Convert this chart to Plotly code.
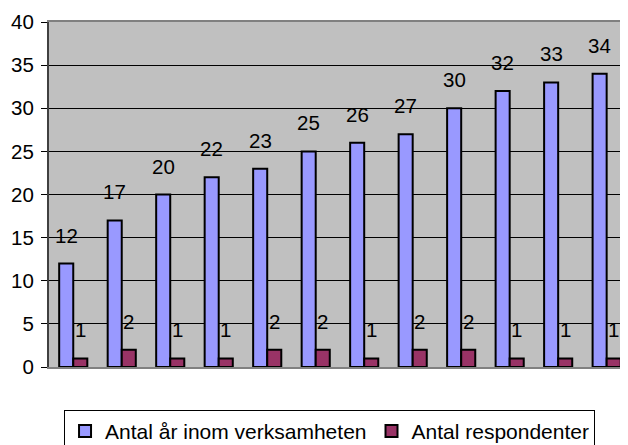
import plotly.graph_objects as go

categories = list(range(12))
years = [12, 17, 20, 22, 23, 25, 26, 27, 30, 32, 33, 34]
respondents = [1, 2, 1, 1, 2, 2, 1, 2, 2, 1, 1, 1]
series_names = ["Antal år inom verksamheten", "Antal respondenter"]
colors = ["#9999FF", "#993366"]
y_ticks = [0, 5, 10, 15, 20, 25, 30, 35, 40]

FONT = "Liberation Sans, Arial, sans-serif"

fig = go.Figure()
for name, vals, col in zip(series_names, [years, respondents], colors):
    fig.add_trace(go.Bar(
        x=categories, y=vals, name=name,
        marker=dict(color=col, line=dict(color="black", width=2)),
    ))

annotations = []
for vals, shift in [(years, -7), (respondents, 7)]:
    for c, v in zip(categories, vals):
        annotations.append(dict(
            x=c, y=v, text=str(v), showarrow=False, xref="x", yref="y",
            xshift=shift, yshift=15, yanchor="bottom",
            font=dict(family=FONT, size=20.5, color="black"),
        ))

fig.update_layout(
    width=628, height=445,
    margin=dict(l=41, r=8, t=14, b=86, autoexpand=False),
    paper_bgcolor="white", plot_bgcolor="#C0C0C0",
    barmode="group", bargap=0.42, bargroupgap=0,
    font=dict(family=FONT, size=20.5, color="black"),
    showlegend=True,
    legend=dict(orientation="h", xref="container", x=0.512, xanchor="center",
                yref="container", y=0.097, yanchor="top",
                bordercolor="black", borderwidth=1, bgcolor="white",
                font=dict(family=FONT, size=21, color="black"),
                itemwidth=30, traceorder="normal"),
    annotations=annotations,
)
fig.update_xaxes(range=[-0.5, 11.44], showticklabels=False, showgrid=False,
                 showline=True, linecolor="#808080", linewidth=2, mirror=True,
                 ticks="", zeroline=False)
fig.update_yaxes(range=[0, 40], tickvals=y_ticks, showgrid=True, gridcolor="black",
                 gridwidth=1, showline=True, linecolor="#404040", linewidth=2,
                 ticks="outside", ticklen=6, tickcolor="black", zeroline=False,
                 ticklabelstandoff=3,
                 tickfont=dict(family=FONT, size=20.5, color="black"))

fig.write_html("out.html")
